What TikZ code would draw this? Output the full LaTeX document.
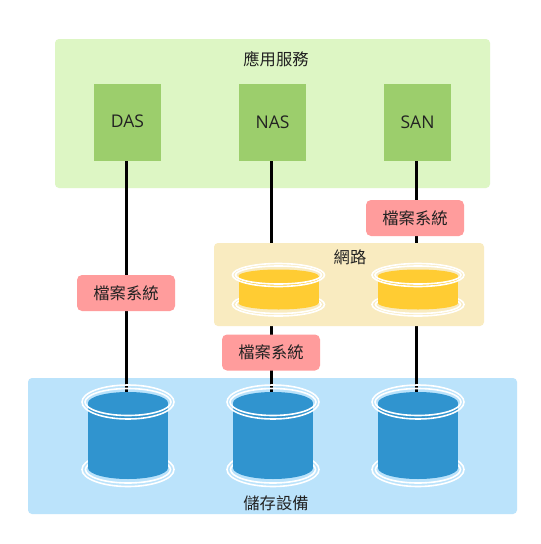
\documentclass[tikz,border=0pt]{standalone}
\usepackage{fontspec}
\setmainfont{Open Sans}
\newfontfamily\cjk{Noto Sans CJK TC}
\definecolor{appbg}{HTML}{DDF6C4}
\definecolor{appbox}{HTML}{9CCE6C}
\definecolor{storebg}{HTML}{BBE3FB}
\definecolor{storecyl}{HTML}{3094CF}
\definecolor{netbg}{HTML}{F9EBC0}
\definecolor{netcyl}{HTML}{FFCC33}
\definecolor{fsbg}{HTML}{FF9C9C}
\definecolor{ink}{HTML}{222222}
\tikzset{
  panel/.style={rounded corners=4pt,inner sep=0pt,text=ink},
  appnode/.style={fill=appbox,minimum width=67pt,minimum height=77pt,inner sep=0pt,text=ink,font=\fontsize{17.5}{19}\selectfont},
  fslabel/.style={fill=fsbg,rounded corners=5pt,minimum width=98pt,minimum height=36pt,inner sep=0pt,text=ink,font=\cjk\fontsize{16.3}{18}\selectfont},
  caption/.style={text=ink,inner sep=0pt,font=\cjk\fontsize{16.3}{18}\selectfont},
  link/.style={line width=3pt,black},
  ring/.style={draw=white,line width=1.6pt,fill=none},
  pics/drum/.style n args={5}{code={% colour, half body height, top ry, ring ry outer, ring ry inner
    \draw[ring] (0,#2+1.5) ellipse (46pt and #4pt);
    \draw[ring] (0,#2+1.5) ellipse (42.5pt and #5pt);
    \fill[#1] (0,#2) ellipse (40pt and #3pt);
    \fill[#1] (-40,-#2) rectangle (40,#2);
    \fill[#1] (0,-#2) ellipse (40pt and #3pt);
    \draw[ring] (0,-#2-1) ellipse (46pt and #4pt);
    \draw[ring] (0,-#2-1) ellipse (43pt and #5pt);
  }},
}
\begin{document}
\begin{tikzpicture}[x=1pt,y=-1pt]
\useasboundingbox (0,0) rectangle (541,544);
\fill[white] (0,0) rectangle (541,544);
% panels
\node[panel,fill=appbg,minimum width=435pt,minimum height=149pt] (app) at (272.5,113.5) {};
\node[panel,fill=storebg,minimum width=489pt,minimum height=136pt] (store) at (272.5,446) {};
\node[caption] (apptitle) at (276,59) {應用服務};
\node[caption] (storetitle) at (276,503) {儲存設備};
% application boxes
\node[appnode] (das) at (127.5,122.5) {\raisebox{3pt}{DAS}};
\node[appnode] (nas) at (272.5,122.5) {\raisebox{-3pt}{NAS}};
\node[appnode] (san) at (417.5,122.5) {\raisebox{-3pt}{SAN}};
% anchors on top of the storage drums
\coordinate (disk1) at (126,392);
\coordinate (disk2) at (271,392);
\coordinate (disk3) at (416,392);
\draw[link] (das.south -| disk1) -- (disk1);
\draw[link] (nas.south -| disk2) -- (disk2);
\draw[link] (san.south -| disk3) -- (disk3);
% network
\node[panel,fill=netbg,minimum width=270pt,minimum height=83pt] (net) at (349,284.5) {};
\node[caption] (nettitle) at (350,257) {網路};
% file system labels
\node[fslabel] (fs1) at (126,293) {\raisebox{-1pt}{檔案系統}};
\node[fslabel] (fs2) at (271,352.5) {\raisebox{-1pt}{檔案系統}};
\node[fslabel] (fs3) at (415,218) {\raisebox{-2pt}{檔案系統}};
% drums
\pic at (128,435.5) {drum={storecyl}{32.5}{11}{17}{13.5}};
\pic at (273,435.5) {drum={storecyl}{32.5}{11}{17}{13.5}};
\pic at (418,435.5) {drum={storecyl}{32.5}{11}{17}{13.5}};
\pic at (278.5,289.5) {drum={netcyl}{13.5}{6.5}{11.5}{9}};
\pic at (418,289.5) {drum={netcyl}{13.5}{6.5}{11.5}{9}};
\end{tikzpicture}
\end{document}
